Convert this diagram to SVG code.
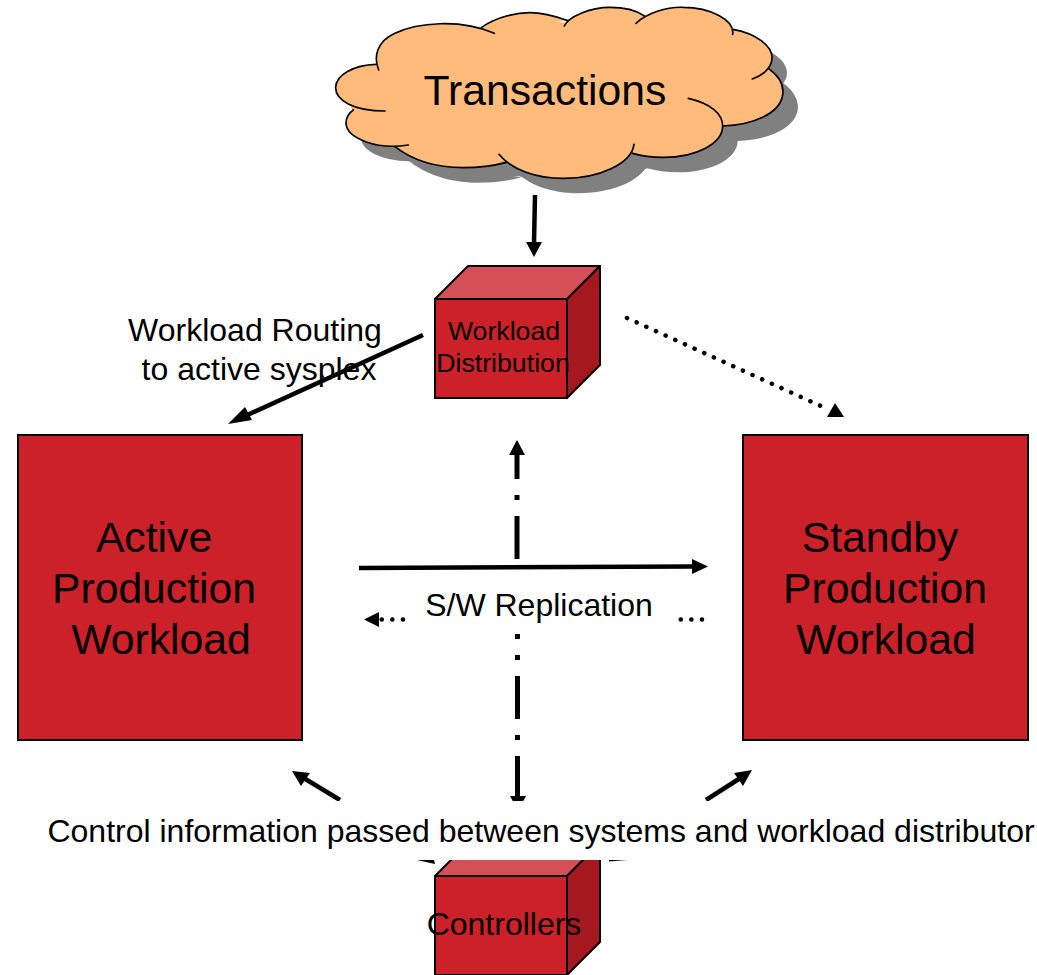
<svg xmlns="http://www.w3.org/2000/svg" width="1037" height="975" viewBox="0 0 1037 975">
<style>
text{font-family:"Liberation Sans",Arial,sans-serif;fill:#000;text-anchor:middle}
.box{fill:#cc2128;stroke:#000;stroke-width:2}
.top{fill:#d55056;stroke:#000;stroke-width:2;stroke-linejoin:round}
.side{fill:#a5191e;stroke:#000;stroke-width:2;stroke-linejoin:round}
.lobe{fill:none;stroke:#000;stroke-width:5;stroke-linecap:round}
.ln{fill:none;stroke:#000;stroke-width:4.500}
.dot{fill:none;stroke:#000;stroke-width:4.500;stroke-linecap:round;stroke-dasharray:.1 10.500}
.dd{fill:none;stroke:#000;stroke-width:5}
.head{fill:#000;stroke:none}
</style>
<defs>
<g id="shape">
<polygon points="168,193 300,90 485,82 630,50 733,68 870,35 962,46 1090,35 1238,92 1330,170 1345,205 1370,290 1208,378 1100,455 938,460 730,520 552,484 430,490 225,440 110,390 100,330 60,262"/>
<path id="lobes" d="M176 210C160 170 170 125 225 100C290 68 420 55 523 100M485 82C530 50 590 38 630 38C670 38 710 50 745 62M733 78C745 50 810 22 870 22C910 22 950 32 972 47M948 70C980 40 1040 20 1090 22C1170 22 1245 60 1238 103M1238 88C1310 100 1358 140 1356 175C1355 205 1325 228 1297 237M1345 205C1380 230 1392 260 1388 285C1380 340 1300 375 1208 378M1105 295C1170 310 1208 340 1208 378C1208 430 1130 472 1030 472C995 472 965 468 938 460M942 433C935 490 840 535 730 535C650 535 575 510 537 463M560 487C510 500 470 503 430 503C340 503 270 475 225 440M265 435C170 450 80 415 78 370C78 355 85 340 100 330M195 333C100 333 45 300 47 262C48 225 100 195 168 193"/>
</g>
</defs>
<g id="connectors">
<path class="ln" d="M535 195L534 243"/><polygon class="head" points="526,242 542,242 534,257"/>
<path class="ln" d="M423 335L243 417"/><polygon class="head" points="228,424 245,407 252,420"/>
<path class="dot" d="M627 318L823 407"/><polygon class="head" points="827,417 835,403 844,417"/>
<path class="dd" d="M517 559V516M517 500V495M517 479V454"/><polygon class="head" points="517,440 509,455 525,455"/>
<path class="ln" d="M359 568L692 566.500"/><polygon class="head" points="708,566.500 692,559 692,574"/>
<path class="dot" d="M403 619.500H376"/><polygon class="head" points="364,619.500 379,612 379,627"/>
<path class="dot" d="M680.700 619.500H703"/>
<path class="dd" d="M517.500 634V639M517.500 655V660M517.500 676V719M517.500 735V740M517.500 756V797"/><polygon class="head" points="510,796 526,796 518,811"/>
<path class="ln" d="M340 800L302 777"/><polygon class="head" points="292,771 310,773 301,786"/>
<path class="ln" d="M706 800L742 777"/><polygon class="head" points="752,770 743,786 734,773"/>
</g>
<g id="transactions">
<g transform="translate(320,0) scale(.33333)">
<use href="#shape" x="45" y="45" fill="#808080"/>
<use href="#shape" fill="#ffbb7b"/>
<use href="#lobes" class="lobe" style="fill:none"/>
</g>
<text x="545" y="105" font-size="42.700">Transactions</text>
</g>
<g id="workload-distribution">
<polygon class="top" points="435,299 468,266 600,266 567,299"/>
<polygon class="side" points="567,299 600,266 600,365 567,398"/>
<rect class="box" x="435" y="299" width="132" height="99"/>
<text x="504" y="340" font-size="26.700">Workload</text>
<text x="503" y="372" font-size="26.700">Distribution</text>
</g>
<g id="label-routing">
<text x="255" y="341" font-size="32">Workload Routing</text>
<text x="259" y="380" font-size="32">to active sysplex</text>
</g>
<g id="active">
<rect class="box" x="18" y="435" width="284" height="305"/>
<text x="154" y="552" font-size="42.700">Active</text>
<text x="154" y="603" font-size="42.700">Production</text>
<text x="161" y="654" font-size="42.700">Workload</text>
</g>
<g id="standby">
<rect class="box" x="743" y="435" width="285" height="305"/>
<text x="880" y="552" font-size="42.700">Standby</text>
<text x="885" y="603" font-size="42.700">Production</text>
<text x="886" y="654" font-size="42.700">Workload</text>
</g>
<g id="label-replication">
<text x="539" y="616" font-size="32">S/W Replication</text>
</g>
<g id="controllers">
<polygon class="top" points="435,876 468,843 600,843 567,876"/>
<polygon class="side" points="567,876 600,843 600,942 567,975"/>
<rect class="box" x="435" y="876" width="132" height="99"/>
</g>
<g id="label-control">
<rect x="0" y="801" width="1037" height="59" fill="#fff"/>
<polygon class="head" points="417,860 434,860 435,864"/>
<polygon class="head" points="609,860 627,860 609,861.500"/>
<text x="541" y="842" font-size="32">Control information passed between systems and workload distributor</text>
<text x="504" y="935" font-size="32">Controllers</text>
</g>
</svg>
